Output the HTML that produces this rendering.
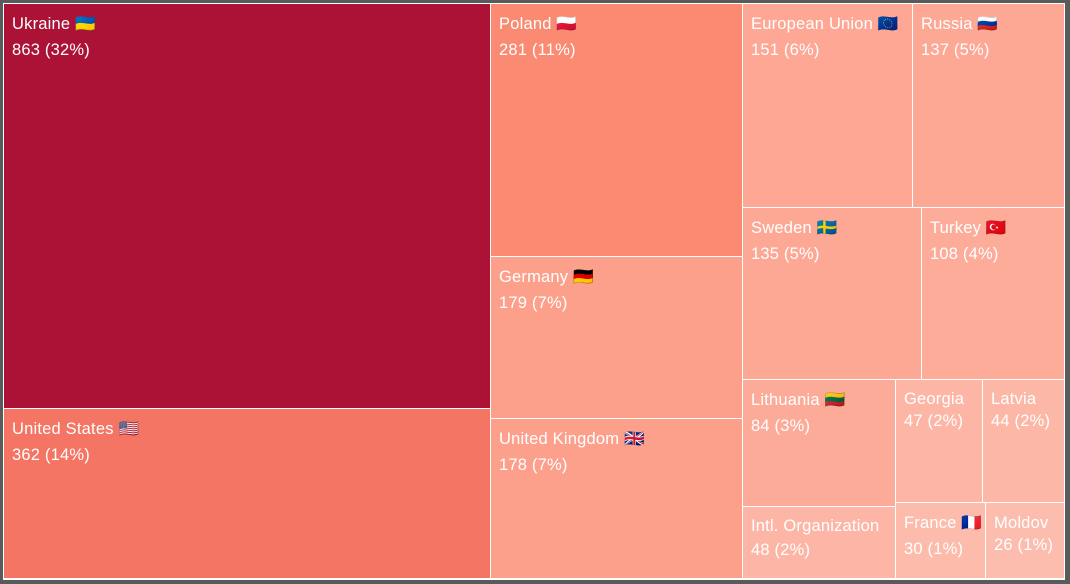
<!DOCTYPE html>
<html><head><meta charset="utf-8"><style>
body{margin:0;width:1070px;height:584px;background:#5a5a5a;position:relative;overflow:hidden;font-family:"Liberation Sans",sans-serif}
#f{position:absolute;left:3px;top:3px;width:1062px;height:577px;background:#fff}
.r{position:absolute;color:#fff;font-size:16.5px;box-sizing:border-box;padding:7px 0 0 8px;line-height:26px;overflow:hidden;white-space:nowrap;letter-spacing:0.2px}
</style></head><body><div id="f"></div>
<div class="r" style="left:4px;top:4px;width:486px;height:404px;background:#ab1236">Ukraine 🇺🇦<br>863 (32%)</div>
<div class="r" style="left:4px;top:409px;width:486px;height:169px;background:#f47563">United States 🇺🇸<br>362 (14%)</div>
<div class="r" style="left:491px;top:4px;width:251px;height:252px;background:#fa8a72">Poland 🇵🇱<br>281 (11%)</div>
<div class="r" style="left:491px;top:257px;width:251px;height:161px;background:#fca08c">Germany 🇩🇪<br>179 (7%)</div>
<div class="r" style="left:491px;top:419px;width:251px;height:159px;background:#fca08c">United Kingdom 🇬🇧<br>178 (7%)</div>
<div class="r" style="left:743px;top:4px;width:169px;height:203px;background:#fda794">European Union 🇪🇺<br>151 (6%)</div>
<div class="r" style="left:913px;top:4px;width:151px;height:203px;background:#fda895">Russia 🇷🇺<br>137 (5%)</div>
<div class="r" style="left:743px;top:208px;width:178px;height:171px;background:#fda895">Sweden 🇸🇪<br>135 (5%)</div>
<div class="r" style="left:922px;top:208px;width:142px;height:171px;background:#fdac9a">Turkey 🇹🇷<br>108 (4%)</div>
<div class="r" style="left:743px;top:380px;width:152px;height:126px;background:#fdab99">Lithuania 🇱🇹<br>84 (3%)</div>
<div class="r" style="left:743px;top:507px;width:152px;height:71px;background:#fdb6a6;padding-top:7px;line-height:24px">Intl. Organization<br>48 (2%)</div>
<div class="r" style="left:896px;top:380px;width:86px;height:122px;background:#fdb6a6;padding-top:8px;line-height:22px">Georgia<br>47 (2%)</div>
<div class="r" style="left:983px;top:380px;width:81px;height:122px;background:#fdb7a7;padding-top:8px;line-height:22px">Latvia<br>44 (2%)</div>
<div class="r" style="left:896px;top:503px;width:89px;height:75px;background:#fdbbab;padding-top:7px">France 🇫🇷<br>30 (1%)</div>
<div class="r" style="left:986px;top:503px;width:78px;height:75px;background:#fdbdae;padding-top:9px;line-height:22px">Moldov<br>26 (1%)</div>
</body></html>
